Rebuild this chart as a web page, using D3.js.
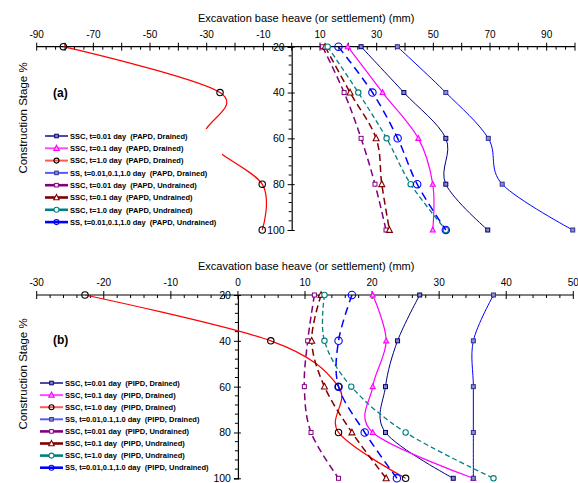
<!DOCTYPE html>
<html><head><meta charset="utf-8">
<script src="https://cdn.jsdelivr.net/npm/d3@7"></script>
<style>
html,body{margin:0;padding:0;background:#fff;}
svg{display:block;font-family:Arial,"Liberation Sans",sans-serif;}
</style></head>
<body><svg id="chart" width="578" height="483"></svg>
<script>
// ---------- DATA ----------
const stages = [20, 40, 60, 80, 100];
const yTickLabels = [20, 40, 60, 80, 100];
const xTickLabelsA = [-90, -70, -50, -30, -10, 10, 30, 50, 70, 90];
const xTickLabelsB = [-30, -20, -10, 0, 10, 20, 30, 40, 50];
const axisTitle = "Excavation base heave (or settlement) (mm)";
const yTitle = "Construction Stage %";

const legendA = [
  "SSC, t=0.01 day  (PAPD, Drained)",
  "SSC, t=0.1 day  (PAPD, Drained)",
  "SSC, t=1.0 day  (PAPD, Drained)",
  "SS, t=0.01,0.1,1.0 day  (PAPD, Drained)",
  "SSC, t=0.01 day  (PAPD, Undrained)",
  "SSC, t=0.1 day  (PAPD, Undrained)",
  "SSC, t=1.0 day  (PAPD, Undrained)",
  "SS, t=0.01,0.1,1.0 day  (PAPD, Undrained)"
];
const legendB = [
  "SSC, t=0.01 day  (PIPD, Drained)",
  "SSC, t=0.1 day  (PIPD, Drained)",
  "SSC, t=1.0 day  (PIPD, Drained)",
  "SS, t=0.01,0.1,1.0 day  (PIPD, Drained)",
  "SSC, t=0.01 day  (PIPD, Undrained)",
  "SSC, t=0.1 day  (PIPD, Undrained)",
  "SSC, t=1.0 day  (PIPD, Undrained)",
  "SS, t=0.01,0.1,1.0 day  (PIPD, Undrained)"
];

// Panel (a) values (mm) at stages 20..100
const a_ssc001_dr = [24.5, 39.6, 54.4, 54.4, 69.2];
const a_ssc01_dr  = [19.8, 32.1, 44.7, 49.8, 49.8];
const a_ssc10_dr  = [-80.6, -25.3, -30.6, -10.4, -10.4];
const a_ss_dr     = [37.3, 54.4, 69.4, 74.3, 99.2];
const a_ssc001_un = [10.9, 18.5, 24.5, 29.4, 33.3];
const a_ssc01_un  = [11.8, 20.6, 29.8, 31.8, 34.5];
const a_ssc10_un  = [12.7, 23.5, 33.5, 42.0, 54.4];
const a_ss_un     = [16.5, 28.5, 37.4, 44.3, 54.4];

// Panel (b) values (mm)
const b_ssc001_dr = [27.1, 23.8, 22.0, 22.0, 32.1];
const b_ssc01_dr  = [20.1, 22.1, 20.1, 20.1, 35.1];
const b_ssc10_dr  = [-22.8, 4.9, 15.0, 15.0, 25.0];
const b_ss_dr     = [38.1, 35.1, 35.1, 35.1, 35.1];
const b_ssc001_un = [11.4, 10.4, 9.9, 10.9, 15.0];
const b_ssc01_un  = [12.4, 11.0, 12.9, 17.0, 22.1];
const b_ssc10_un  = [12.9, 12.9, 16.9, 25.0, 38.1];
const b_ss_un     = [17.0, 15.0, 15.0, 18.9, 23.7];

// ---------- STYLES ----------
const styles = [
  {color:"#000080", w:1,   dash:null,  marker:"square",   mstroke:"#000080", mfill:"#8a8ab8", ms:4,  lw:2, lop:0.7},
  {color:"#ff00ff", w:1.2, dash:null,  marker:"triangle", mstroke:"#ff00ff", mfill:"#ff9cff", ms:5,  lw:2, lop:0.7},
  {color:"#ff0000", w:1.2, dash:null,  marker:"circle",   mstroke:"#000000", mfill:"none",    ms:3.2,lw:2, lop:0.65},
  {color:"#0000ff", w:1,   dash:null,  marker:"square",   mstroke:"#3030a0", mfill:"#8c8cc4", ms:4,  lw:2, lop:0.65},
  {color:"#800080", w:1.5, dash:"7,4", marker:"square",   mstroke:"#800080", mfill:"#ffffff", ms:4,  lw:2.6, lop:1},
  {color:"#800000", w:1.5, dash:"7,4", marker:"triangle", mstroke:"#800000", mfill:"#ffffff", ms:6,  lw:2.6, lop:1},
  {color:"#008080", w:1.3, dash:"5,3", marker:"circle",   mstroke:"#008080", mfill:"#ffffff", ms:2.7,lw:2.6, lop:1},
  {color:"#0000ff", w:1.5, dash:"8,5", marker:"circle",   mstroke:"#0000ff", mfill:"none",    ms:3.7,lw:2.6, lop:1}
];

const panels = [
  {
    data:[a_ssc001_dr, a_ssc01_dr, a_ssc10_dr, a_ss_dr, a_ssc001_un, a_ssc01_un, a_ssc10_un, a_ss_un],
    legend: legendA, label:"(a)", domain:[-90,100], xr:[36.7,575], yr:[46.7,230],
    labels:xTickLabelsA, minor:10/3, major:10,
    titleY:22, tickY:38, letterY:97, ylabelCy:118,
    leg:{x0:45, x1:68, tx:70, y0:136, dy:12.3, bg:[41,129,181,101]}
  },
  {
    data:[b_ssc001_dr, b_ssc01_dr, b_ssc10_dr, b_ss_dr, b_ssc001_un, b_ssc01_un, b_ssc10_un, b_ss_un],
    legend: legendB, label:"(b)", domain:[-30,50], xr:[36.7,573.3], yr:[295,478.3],
    labels:xTickLabelsB, minor:2, major:10,
    titleY:270, tickY:286, letterY:344, ylabelCy:374,
    leg:{x0:40, x1:63, tx:65, y0:383, dy:12.1, bg:[36,376,181,98]}
  }
];

const svg = d3.select("#chart");

function drawMarker(g, st, cx, cy) {
  if (st.marker === "circle") {
    g.append("circle").attr("cx", cx).attr("cy", cy).attr("r", st.ms)
      .attr("fill", st.mfill).attr("stroke", st.mstroke).attr("stroke-width", 1.1);
  } else if (st.marker === "square") {
    const s = st.ms;
    g.append("rect").attr("x", cx - s/2).attr("y", cy - s/2).attr("width", s).attr("height", s)
      .attr("fill", st.mfill).attr("stroke", st.mstroke).attr("stroke-width", 1);
  } else {
    const s = st.ms;
    g.append("path")
      .attr("d", `M${cx},${cy - s*0.55}L${cx + s*0.5},${cy + s*0.4}L${cx - s*0.5},${cy + s*0.4}Z`)
      .attr("fill", st.mfill).attr("stroke", st.mstroke).attr("stroke-width", 1.1);
  }
}

panels.forEach(p => {
  const x = d3.scaleLinear().domain(p.domain).range(p.xr);
  const y = d3.scaleLinear().domain([20, 100]).range(p.yr);
  const g = svg.append("g");
  const x0 = x(0), yTop = y(20);

  // axis title
  g.append("text").attr("x", 198).attr("y", p.titleY).attr("font-size", 11)
    .attr("fill", "#000").text(axisTitle);

  // x axis line
  g.append("line").attr("x1", p.xr[0]).attr("x2", p.xr[1]).attr("y1", yTop).attr("y2", yTop)
    .attr("stroke", "#000").attr("stroke-width", 1.2);
  // ticks
  const nMin = Math.round((p.domain[1] - p.domain[0]) / p.minor);
  for (let i = 0; i <= nMin; i++) {
    const v = p.domain[0] + i * p.minor;
    const isMajor = Math.abs(v / p.major - Math.round(v / p.major)) < 1e-6;
    g.append("line").attr("x1", x(v)).attr("x2", x(v))
      .attr("y1", isMajor ? yTop - 4 : yTop).attr("y2", yTop + (isMajor ? 4 : 3))
      .attr("stroke", "#000").attr("stroke-width", 1);
  }
  // tick labels
  p.labels.forEach(v => {
    g.append("text").attr("x", x(v)).attr("y", p.tickY).attr("text-anchor", "middle")
      .attr("font-size", 10).text(v);
  });

  // y axis (via d3 axis)
  const yAxis = d3.axisLeft(y).tickValues(yTickLabels).tickSize(4).tickPadding(3)
    .tickFormat(d3.format("d"));
  const ya = g.append("g").attr("transform", `translate(${x0},0)`).call(yAxis);
  ya.select(".domain").attr("stroke", "#000").attr("stroke-width", 1.2);
  ya.selectAll(".tick line").attr("x2", -4).attr("x1", 3).attr("stroke", "#000");
  ya.selectAll(".tick text").attr("font-size", 10.5).attr("font-family", "Arial,'Liberation Sans',sans-serif").attr("fill", "#000");
  for (let s = 24; s < 100; s += 4) {
    if (s % 20 === 0) continue;
    g.append("line").attr("x1", x0 - 3).attr("x2", x0).attr("y1", y(s)).attr("y2", y(s))
      .attr("stroke", "#000").attr("stroke-width", 1);
  }

  // y title
  g.append("text").attr("transform", `translate(27,${p.ylabelCy}) rotate(-90)`)
    .attr("text-anchor", "middle").attr("font-size", 11.5).text(yTitle);

  // panel letter
  g.append("text").attr("x", 53).attr("y", p.letterY).attr("font-size", 12)
    .attr("font-weight", "bold").text(p.label);

  // series
  const line = d3.line().x(d => x(d.v)).y(d => y(d.s)).curve(d3.curveCardinal.tension(0));
  p.data.forEach((vals, i) => {
    const st = styles[i];
    const pts = stages.map((s, k) => ({s: s, v: vals[k]}));
    g.append("path").attr("d", line(pts)).attr("fill", "none")
      .attr("stroke", st.color).attr("stroke-width", st.w)
      .attr("stroke-dasharray", st.dash);
    pts.forEach(d => drawMarker(g, st, x(d.v), y(d.s)));
  });

  // legend
  const L = p.leg;
  g.append("rect").attr("x", L.bg[0]).attr("y", L.bg[1]).attr("width", L.bg[2]).attr("height", L.bg[3])
    .attr("fill", "#fff");
  p.legend.forEach((t, i) => {
    const st = styles[i];
    const ly = L.y0 + i * L.dy;
    g.append("line").attr("x1", L.x0).attr("x2", L.x1).attr("y1", ly).attr("y2", ly)
      .attr("stroke", st.color).attr("stroke-width", st.lw).attr("stroke-opacity", st.lop);
    drawMarker(g, Object.assign({}, st, {ms: st.marker === "circle" ? 2.5 : (st.marker === "triangle" ? 5.5 : 3.6)}), (L.x0 + L.x1) / 2, ly);
    g.append("text").attr("x", L.tx).attr("y", ly + 2.7).attr("font-size", 7.5)
      .attr("font-weight", "bold").style("white-space", "pre").text(t);
  });
});
</script></body></html>
